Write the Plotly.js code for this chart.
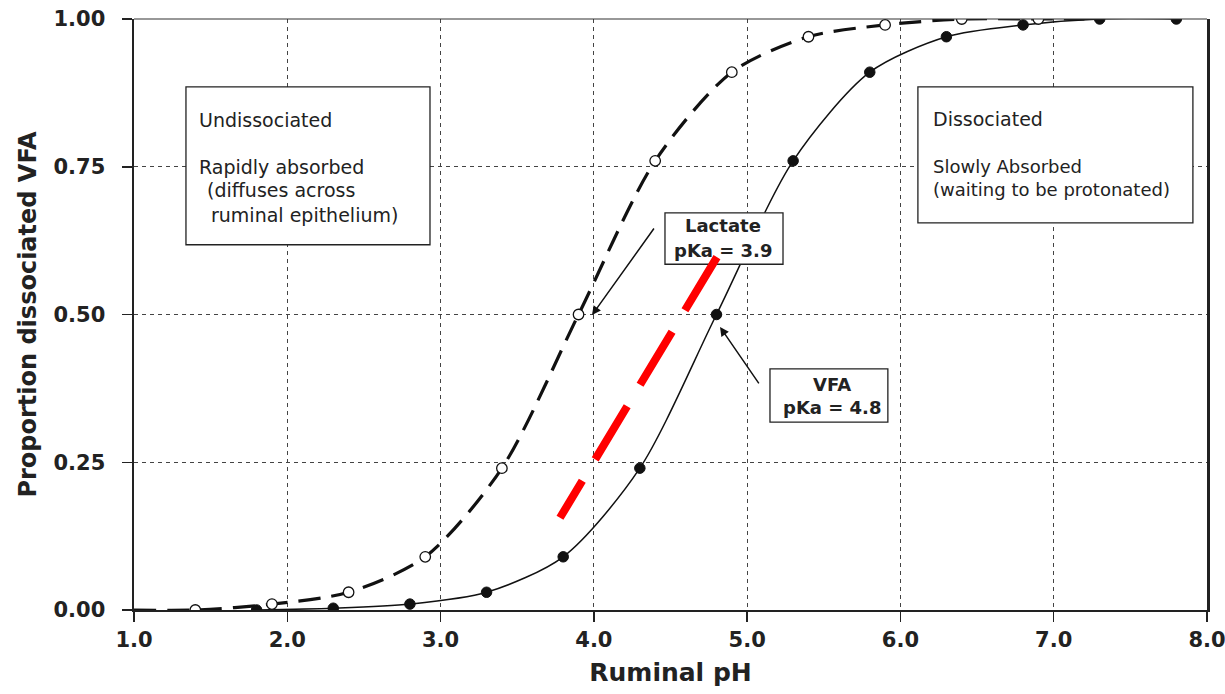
<!DOCTYPE html>
<html>
<head>
<meta charset="utf-8">
<script src="https://cdn.plot.ly/plotly-3.0.1.min.js"></script>
<style>html,body{margin:0;padding:0;background:#fff;}</style>
</head>
<body>
<div id="chart" style="width:1225px;height:694px;"></div>
<script>
// Lactate (pKa 3.9): open circles, dashed curve
const lactatePH   = [1.4, 1.9, 2.4, 2.9, 3.4, 3.9, 4.4, 4.9, 5.4, 5.9, 6.4, 6.9];
const lactateProp = [0.00, 0.01, 0.03, 0.09, 0.24, 0.50, 0.76, 0.91, 0.97, 0.99, 1.00, 1.00];
// curve end points
const lactateCurvePH   = [1.0, 1.4, 1.9, 2.4, 2.9, 3.4, 3.9, 4.4, 4.9, 5.4, 5.9, 6.4, 6.9, 7.2];
const lactateCurveProp = [0.00, 0.00, 0.01, 0.03, 0.09, 0.24, 0.50, 0.76, 0.91, 0.97, 0.99, 1.00, 1.00, 1.00];
// VFA (pKa 4.8): filled circles, solid curve
const vfaPH   = [1.8, 2.3, 2.8, 3.3, 3.8, 4.3, 4.8, 5.3, 5.8, 6.3, 6.8, 7.3, 7.8];
const vfaProp = [0.00, 0.003, 0.01, 0.03, 0.09, 0.24, 0.50, 0.76, 0.91, 0.97, 0.99, 1.00, 1.00];

const xTicks = [1, 2, 3, 4, 5, 6, 7, 8];
const xTickLabels = ['1.0', '2.0', '3.0', '4.0', '5.0', '6.0', '7.0', '8.0'];
const yTicks = [0, 0.25, 0.5, 0.75, 1.0];
const yTickLabels = ['0.00', '0.25', '0.50', '0.75', '1.00'];

const FONT = 'DejaVu Sans, Liberation Sans, Arial, sans-serif';

const traces = [
  {x: lactateCurvePH, y: lactateCurveProp, mode: 'lines', type: 'scatter',
   line: {color: '#111', width: 3.2, dash: '22px,11px', shape: 'spline', smoothing: 0.8},
   hoverinfo: 'skip', showlegend: false},
  {x: vfaPH, y: vfaProp, mode: 'lines', type: 'scatter',
   line: {color: '#111', width: 1.5, shape: 'spline', smoothing: 0.8},
   hoverinfo: 'skip', showlegend: false},
  {x: lactatePH, y: lactateProp, mode: 'markers', type: 'scatter',
   marker: {color: '#fff', size: 10.5, line: {color: '#111', width: 1.3}},
   showlegend: false},
  {x: vfaPH, y: vfaProp, mode: 'markers', type: 'scatter',
   marker: {color: '#111', size: 10.5, line: {color: '#111', width: 1}},
   showlegend: false}
];

function box(x0, x1, y0, y1) {
  return {type: 'rect', xref: 'x', yref: 'y', x0: x0, x1: x1, y0: y0, y1: y1,
          fillcolor: '#fff', line: {color: '#222', width: 1.3}, layer: 'above'};
}
function txt(x, y, s, opts) {
  return Object.assign({x: x, y: y, xref: 'x', yref: 'y', text: s, showarrow: false,
    xanchor: 'left', yanchor: 'middle',
    font: {family: FONT, size: 19, color: '#222'}}, opts || {});
}

const shapes = [
  // top frame
  {type: 'line', xref: 'paper', yref: 'paper', x0: 0, x1: 1, y0: 1, y1: 1,
   line: {color: '#333', width: 1.2}, layer: 'above'},
  box(1.339, 2.931, 0.618, 0.885),
  box(6.114, 7.908, 0.655, 0.885),
  box(4.464, 5.234, 0.585, 0.672),
  box(5.149, 5.918, 0.318, 0.408),
  // red dashed overlay line
  {type: 'line', xref: 'x', yref: 'y', x0: 4.803, y0: 0.597, x1: 3.779, y1: 0.156,
   line: {color: '#f00', width: 8, dash: '62px,25px'}, layer: 'above'}
];

const annotations = [
  txt(1.411, 0.829, 'Undissociated'),
  txt(1.411, 0.750, 'Rapidly absorbed'),
  txt(1.463, 0.711, '(diffuses across'),
  txt(1.489, 0.668, 'ruminal epithelium)'),
  txt(6.199, 0.831, 'Dissociated'),
  txt(6.199, 0.750, 'Slowly Absorbed', {font: {family: FONT, size: 18, color: '#222'}}),
  txt(6.199, 0.711, '(waiting to be protonated)', {font: {family: FONT, size: 18, color: '#222'}}),
  txt(4.842, 0.651, '<b>Lactate</b>', {xanchor: 'center', font: {family: FONT, size: 18, color: '#222'}}),
  txt(4.842, 0.609, '<b>pKa = 3.9</b>', {xanchor: 'center', font: {family: FONT, size: 18, color: '#222'}}),
  txt(5.553, 0.381, '<b>VFA</b>', {xanchor: 'center', font: {family: FONT, size: 18, color: '#222'}}),
  txt(5.553, 0.342, '<b>pKa = 4.8</b>', {xanchor: 'center', font: {family: FONT, size: 18, color: '#222'}}),
  // arrows
  {x: 3.988, y: 0.499, ax: 4.399, ay: 0.648, xref: 'x', yref: 'y', axref: 'x', ayref: 'y',
   text: '', showarrow: true, arrowhead: 2, arrowsize: 1.2, arrowwidth: 1.5, arrowcolor: '#111'},
  {x: 4.823, y: 0.479, ax: 5.083, ay: 0.381, xref: 'x', yref: 'y', axref: 'x', ayref: 'y',
   text: '', showarrow: true, arrowhead: 2, arrowsize: 1.2, arrowwidth: 1.5, arrowcolor: '#111'}
];

const layout = {
  width: 1225, height: 694,
  margin: {l: 134, r: 18, t: 19, b: 84, pad: 0},
  paper_bgcolor: '#fff', plot_bgcolor: '#fff',
  showlegend: false,
  xaxis: {
    range: [1, 8], tickmode: 'array', tickvals: xTicks, ticktext: xTickLabels,
    showgrid: true, gridcolor: '#444', gridwidth: 1, griddash: '4px,4px',
    zeroline: false, showline: true, linecolor: '#222', linewidth: 2,
    ticks: 'outside', ticklen: 10, tickwidth: 1.5, tickcolor: '#222',
    ticklabeloverflow: 'allow',
    tickfont: {family: FONT, size: 21, color: '#222', weight: 'bold'},
    title: {text: '<b>Ruminal pH</b>', font: {family: FONT, size: 25, color: '#222'}, standoff: 12}
  },
  yaxis: {
    range: [0, 1], tickmode: 'array', tickvals: yTicks, ticktext: yTickLabels,
    showgrid: true, gridcolor: '#444', gridwidth: 1, griddash: '4px,4px',
    zeroline: false, showline: true, mirror: true, linecolor: '#222', linewidth: 2.5,
    ticks: 'outside', ticklen: 10, tickwidth: 1.5, tickcolor: '#222',
    ticklabelstandoff: 12, ticklabeloverflow: 'allow',
    tickfont: {family: FONT, size: 21, color: '#222', weight: 'bold'},
    title: {text: '<b>Proportion dissociated VFA</b>', font: {family: FONT, size: 24, color: '#222'}, standoff: 10}
  },
  shapes: shapes,
  annotations: annotations
};

Plotly.newPlot('chart', traces, layout, {displayModeBar: false, staticPlot: true});
</script>
</body>
</html>
